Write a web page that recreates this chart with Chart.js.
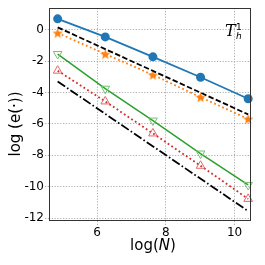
<!DOCTYPE html>
<html>
<head>
<meta charset="utf-8">
<script src="https://cdn.jsdelivr.net/npm/chart.js@4/dist/chart.umd.min.js"></script>
<style>
  html, body { margin: 0; padding: 0; background: #fff; }
  #wrap { width: 265px; height: 265px; }
</style>
</head>
<body>
<div id="wrap"><canvas id="chart" width="265" height="265"></canvas></div>
<script>
// log(N) with N = 128 ... 32768
const logN = [4.852, 6.238, 7.625, 9.011, 10.397];
const errBlue = [0.69, -0.46, -1.73, -3.03, -4.40];
const errOrange = [-0.21, -1.55, -2.88, -4.30, -5.69];
const errGreen = [-1.55, -3.76, -5.79, -7.89, -9.89];
const errRed = [-2.61, -4.57, -6.61, -8.67, -10.78];
// reference slopes (end points only)
const refX = [4.852, 10.397];
const refDashed = [0.15, -5.40];
const refDashDot = [-3.30, -11.56];
const xTicks = [6, 8, 10];
const yTicks = [0, -2, -4, -6, -8, -10, -12];

const pairs = (xs, ys) => xs.map((x, i) => ({ x: x, y: ys[i] }));

// filled star marker like matplotlib '*'
const makeStar = (color, r) => {
    const c = document.createElement("canvas");
    const s = Math.ceil(r * 2 + 2);
    c.width = s; c.height = s;
    const g = c.getContext("2d");
    g.fillStyle = color;
    g.beginPath();
    for (let i = 0; i < 10; i++) {
        const a = -Math.PI / 2 + i * Math.PI / 5;
        const rr = i % 2 === 0 ? r : r * 0.42;
        g.lineTo(s / 2 + rr * Math.cos(a), s / 2 + 0.5 + rr * Math.sin(a));
    }
    g.closePath();
    g.fill();
    return c;
};

const framePlugin = {
    id: "frame",
    afterDatasetsDraw(chart) {
        const ctx = chart.ctx;
        const a = chart.chartArea;
        ctx.save();
        ctx.strokeStyle = "#333";
        ctx.lineWidth = 1;
        ctx.strokeRect(Math.round(a.left) + 0.5, Math.round(a.top) + 0.5,
            Math.round(a.right - a.left) - 1, Math.round(a.bottom - a.top) - 1);
        ctx.restore();
    },
    afterDraw(chart) {
        const ctx = chart.ctx;
        const a = chart.chartArea;
        ctx.save();
        // axis labels
        ctx.fillStyle = "#000";
        ctx.textBaseline = "alphabetic";
        const p1 = "log(", p2 = "N", p3 = ")";
        ctx.font = "15px 'DejaVu Sans'";
        const w1 = ctx.measureText(p1).width, w3 = ctx.measureText(p3).width;
        ctx.font = "italic 15px 'DejaVu Sans'";
        const w2 = ctx.measureText(p2).width;
        let x0 = (a.left + a.right) / 2 + 3 - (w1 + w2 + w3) / 2;
        const yb = 250;
        ctx.font = "15px 'DejaVu Sans'";
        ctx.fillText(p1, x0, yb);
        ctx.font = "italic 15px 'DejaVu Sans'";
        ctx.fillText(p2, x0 + w1, yb);
        ctx.font = "15px 'DejaVu Sans'";
        ctx.fillText(p3, x0 + w1 + w2, yb);

        ctx.save();
        ctx.translate(20, 124);
        ctx.rotate(-Math.PI / 2);
        ctx.textAlign = "center";
        ctx.font = "15px 'DejaVu Sans'";
        ctx.fillText("log (e(\u00b7))", 0, 0);
        ctx.restore();

        // T_h^1 annotation
        ctx.textAlign = "left";
        ctx.font = "italic 16px 'DejaVu Serif'";
        ctx.fillText("T", 225, 36);
        ctx.font = "italic 9px 'DejaVu Sans'";
        ctx.fillText("h", 236, 39);
        ctx.font = "9px 'DejaVu Sans'";
        ctx.fillText("1", 236, 30);
        ctx.restore();
    }
};

const ctx = document.getElementById("chart").getContext("2d");
const chart = new Chart(ctx, {
    type: "scatter",
    data: {
        datasets: [
            {
                data: pairs(logN, errBlue),
                showLine: true,
                clip: false,
                borderColor: "#1f77b4",
                backgroundColor: "#1f77b4",
                borderWidth: 1.8,
                pointStyle: "circle",
                pointRadius: 4.5,
                pointBorderWidth: 0
            },
            {
                data: pairs(refX, refDashed),
                showLine: true,
                clip: false,
                borderColor: "#000",
                borderWidth: 1.8,
                borderDash: [5.5, 2.4],
                pointRadius: 0
            },
            {
                data: pairs(logN, errOrange),
                showLine: true,
                clip: false,
                borderColor: "#ff7f0e",
                borderWidth: 1.8,
                borderDash: [1.8, 2.6],
                pointStyle: makeStar("#ff7f0e", 5.5),
                pointRadius: 5
            },
            {
                data: pairs(logN, errGreen),
                showLine: true,
                clip: false,
                borderColor: "#2ca02c",
                backgroundColor: "rgba(255,255,255,0)",
                borderWidth: 1.5,
                pointStyle: "triangle",
                rotation: 180,
                pointRadius: 5,
                pointBorderColor: "#6fc46f",
                pointBorderWidth: 1
            },
            {
                data: pairs(logN, errRed),
                showLine: true,
                clip: false,
                borderColor: "#d62728",
                backgroundColor: "rgba(255,255,255,0)",
                borderWidth: 1.8,
                borderDash: [1.8, 2.6],
                pointStyle: "triangle",
                pointRadius: 5,
                pointBorderColor: "#e06666",
                pointBorderWidth: 1
            },
            {
                data: pairs(refX, refDashDot),
                showLine: true,
                clip: false,
                borderColor: "#000",
                borderWidth: 1.8,
                borderDash: [9, 2.4, 1.6, 2.4],
                pointRadius: 0
            }
        ]
    },
    options: {
        responsive: false,
        animation: false,
        layout: { padding: { left: 0, right: 14, top: 6, bottom: 0 } },
        plugins: {
            legend: { display: false },
            tooltip: { enabled: false }
        },
        scales: {
            x: {
                type: "linear",
                min: 4.6,
                max: 10.48,
                afterBuildTicks: axis => { axis.ticks = xTicks.map(v => ({ value: v })); },
                afterFit: axis => { axis.height = 44; },
                ticks: {
                    color: "#000",
                    font: { family: "DejaVu Sans", size: 12 },
                    maxRotation: 0,
                    padding: 1
                },
                grid: { color: "#999", lineWidth: 0.8, tickLength: 4, tickBorderDash: [1.2, 1.6] },
                border: { display: false, dash: [1.2, 1.6] }
            },
            y: {
                type: "linear",
                min: -12.19,
                max: 1.37,
                afterBuildTicks: axis => { axis.ticks = yTicks.map(v => ({ value: v })); },
                afterFit: axis => { axis.width = 49; },
                ticks: {
                    color: "#000",
                    font: { family: "DejaVu Sans", size: 12 },
                    padding: 1,
                    callback: v => String(v)
                },
                grid: { color: "#999", lineWidth: 0.8, tickLength: 4, tickBorderDash: [1.2, 1.6] },
                border: { display: false, dash: [1.2, 1.6] }
            }
        }
    },
    plugins: [framePlugin]
});
</script>
</body>
</html>
